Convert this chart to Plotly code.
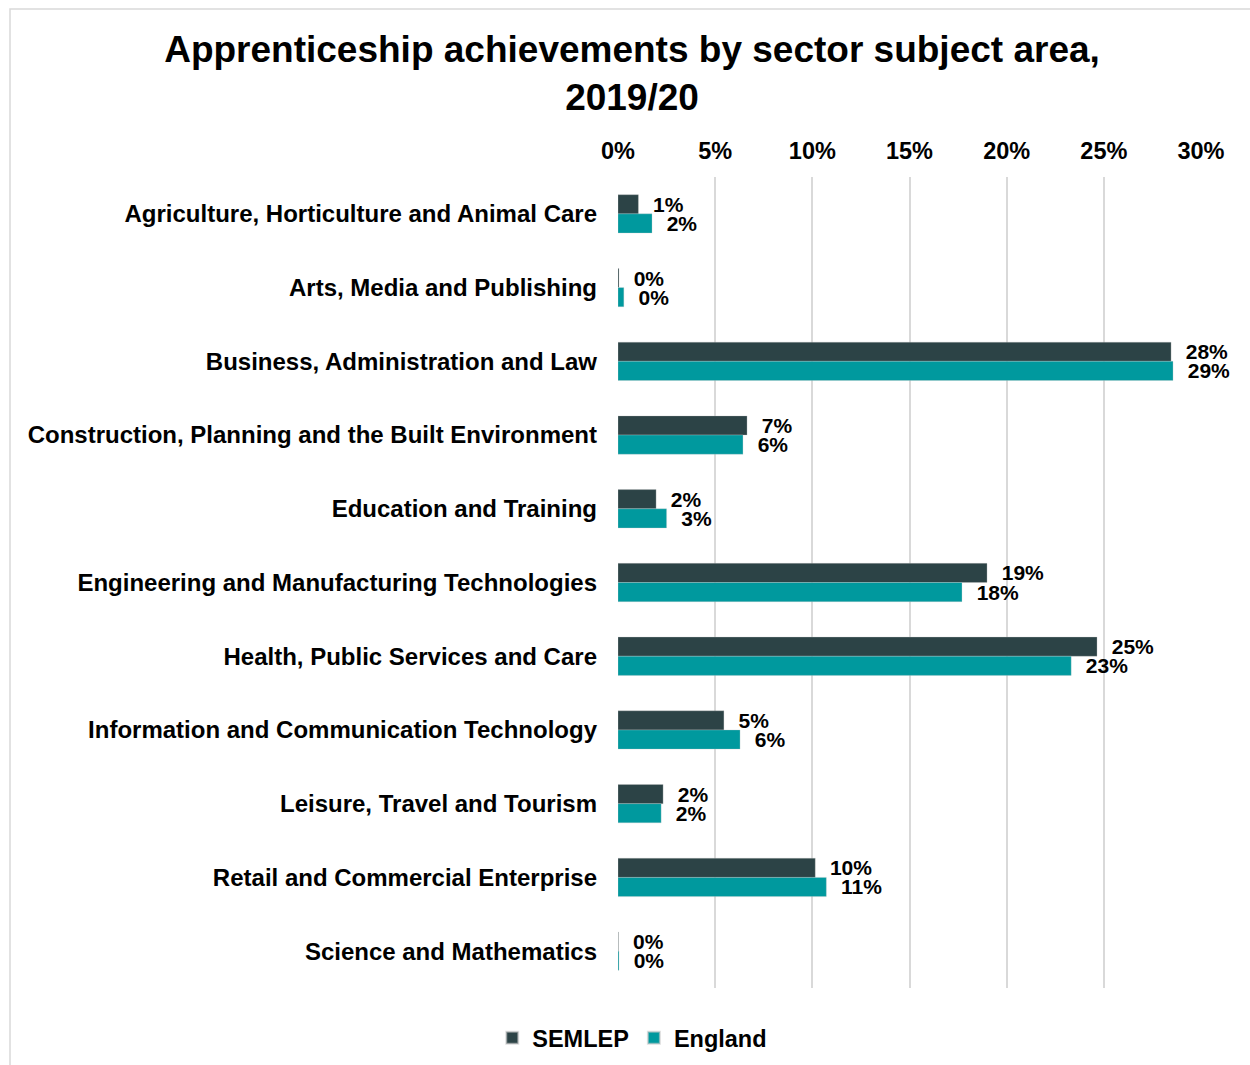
import plotly.graph_objects as go

# Sector subject areas (top to bottom)
categories = [
    "Agriculture, Horticulture and Animal Care",
    "Arts, Media and Publishing",
    "Business, Administration and Law",
    "Construction, Planning and the Built Environment",
    "Education and Training",
    "Engineering and Manufacturing Technologies",
    "Health, Public Services and Care",
    "Information and Communication Technology",
    "Leisure, Travel and Tourism",
    "Retail and Commercial Enterprise",
    "Science and Mathematics",
]

# Share of apprenticeship achievements, 2019/20
semlep = [0.0105, 0.0005, 0.2846, 0.0664, 0.0196, 0.1899, 0.2465, 0.0545, 0.0232, 0.1015, 0.0002]
england = [0.0175, 0.0030, 0.2856, 0.0643, 0.0250, 0.1770, 0.2332, 0.0628, 0.0222, 0.1072, 0.0005]

x_ticks = [0, 0.05, 0.10, 0.15, 0.20, 0.25, 0.30]

SEMLEP_COLOR = "#2C4346"
ENGLAND_COLOR = "#00999E"
FONT = "Liberation Sans, Arial, sans-serif"

fig = go.Figure()
for name, vals, color in [("SEMLEP", semlep, SEMLEP_COLOR), ("England", england, ENGLAND_COLOR)]:
    fig.add_trace(go.Bar(
        name=name,
        y=categories,
        x=vals,
        orientation="h",
        marker=dict(color=color, line=dict(color="rgba(200,200,200,0.6)", width=0.5)),
        texttemplate="\u00a0\u00a0%{x:.0%}",
        textposition="outside",
        constraintext="none",
        textfont=dict(family=FONT, size=21, color="#000000", weight="bold"),
        cliponaxis=False,
        hovertemplate="%{y}: %{x:.1%}<extra>" + name + "</extra>",
    ))

fig.update_layout(
    width=1250,
    height=1065,
    paper_bgcolor="white",
    plot_bgcolor="white",
    barmode="group",
    bargap=0.48,
    bargroupgap=0,
    margin=dict(l=618, r=49, t=177, b=77),
    font=dict(family=FONT, color="#000000"),
    title=dict(
        text="Apprenticeship achievements by sector subject area,<br>2019/20",
        x=0.5056, xref="container", xanchor="center",
        y=1 - 62 / 1065, yref="container", yanchor="middle",
        font=dict(family=FONT, size=37, color="#000000", weight="bold"),
    ),
    xaxis=dict(
        side="top",
        range=[0, 0.30],
        tickvals=x_ticks,
        tickformat=".0%",
        showgrid=True,
        gridcolor="#D9D9D9",
        gridwidth=2,
        zeroline=False,
        showline=False,
        ticks="",
        ticklabelstandoff=12,
        tickfont=dict(family=FONT, size=23.5, color="#000000", weight="bold"),
        fixedrange=True,
    ),
    yaxis=dict(
        autorange="reversed",
        showgrid=False,
        zeroline=False,
        showline=False,
        ticks="",
        ticklabelstandoff=20,
        tickfont=dict(family=FONT, size=24, color="#000000", weight="bold"),
        fixedrange=True,
    ),
    legend=dict(
        orientation="h",
        xref="container", x=0.5058, xanchor="center",
        yref="container", y=1 - 1038 / 1065, yanchor="middle",
        font=dict(family=FONT, size=23.5, color="#000000", weight="bold"),
        itemsizing="constant",
        traceorder="normal",
    ),
    shapes=[
        dict(
            type="rect", xref="paper", yref="paper",
            x0=(10 - 618) / 583, x1=(1260 - 618) / 583,
            y0=(988 - 1075) / 811, y1=(988 - 9) / 811,
            line=dict(color="#D9D9D9", width=1.5),
            fillcolor="rgba(0,0,0,0)",
            layer="below",
        )
    ],
)

fig.write_html("out.html")
